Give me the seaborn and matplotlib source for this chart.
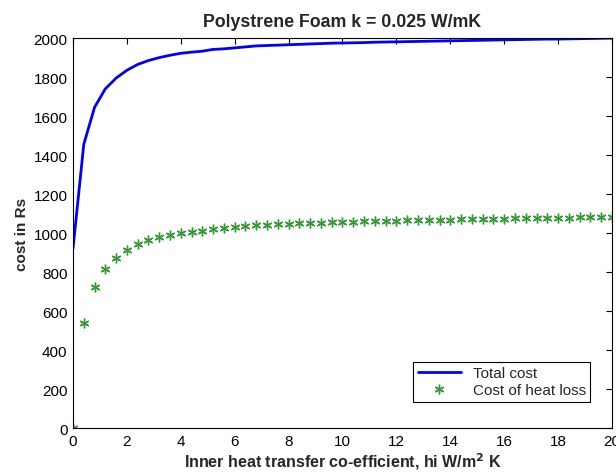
import matplotlib.pyplot as plt
import seaborn as sns
import numpy as np

plt.switch_backend('Agg')

hi = [round(0.4 * i, 1) for i in range(51)]

total_cost = [920, 1455, 1645, 1740, 1795, 1835, 1865, 1885, 1900, 1912,
              1922, 1928, 1933, 1942, 1945, 1950, 1955, 1960, 1962, 1964,
              1966, 1968, 1970, 1972, 1974, 1975, 1976, 1977, 1979, 1980,
              1981, 1982, 1983, 1984, 1985, 1986, 1987, 1988, 1989, 1990,
              1991, 1992, 1993, 1994, 1995, 1995, 1996, 1997, 1998, 1999, 2000]

heat_loss_cost = [0, 537, 725, 815, 870, 913, 944, 962, 978, 990,
                  1000, 1007, 1013, 1020, 1024, 1029, 1035, 1040, 1043, 1045,
                  1047, 1050, 1052, 1054, 1055, 1057, 1058, 1060, 1061, 1062,
                  1063, 1065, 1066, 1067, 1068, 1069, 1070, 1071, 1072, 1073,
                  1074, 1075, 1076, 1077, 1077, 1078, 1079, 1080, 1081, 1082, 1083]

xticks = list(range(0, 21, 2))
yticks = list(range(0, 2001, 200))

sns.set_theme(style="white")
plt.rcParams['font.family'] = ['Liberation Sans', 'DejaVu Sans']

fig = plt.figure(figsize=(6.16, 4.77), dpi=100)
ax = fig.add_axes([0.1185, 0.1006, 0.875, 0.8174])

sns.lineplot(x=hi, y=total_cost, ax=ax, color='#0000ff', linewidth=2, label='Total cost')
ax.plot(hi, heat_loss_cost, linestyle='none', marker=(6, 2, 0), markersize=7,
        color='#008000', markeredgewidth=1.0, alpha=0.8, label='Cost of heat loss')

ax.set_xlim(0, 20)
ax.set_ylim(0, 2000)
ax.set_xticks(xticks)
ax.set_yticks(yticks)
ax.tick_params(direction='in', top=True, right=True, length=4, width=0.8,
               labelsize=11, color='black', labelcolor='black', pad=4)
for s in ax.spines.values():
    s.set_color('black')
    s.set_linewidth(0.8)

ax.set_title('Polystrene Foam k = 0.025 W/mK', fontsize=12.8, fontweight='bold', pad=9)
ax.set_xlabel('Inner heat transfer co-efficient, hi W/m$^\\mathbf{2}$ K', fontsize=11.5, fontweight='bold', labelpad=2)
ax.set_ylabel('cost in Rs', fontsize=11, fontweight='bold', labelpad=3)

leg = ax.legend(loc='lower right', bbox_to_anchor=(0.96, 0.067), borderaxespad=0,
                fontsize=11, frameon=True, fancybox=False, edgecolor='black',
                framealpha=1, borderpad=0.3, handlelength=2.8, labelspacing=0.2)
leg.get_frame().set_linewidth(0.8)

plt.savefig('out.png', dpi=100)
plt.close()
